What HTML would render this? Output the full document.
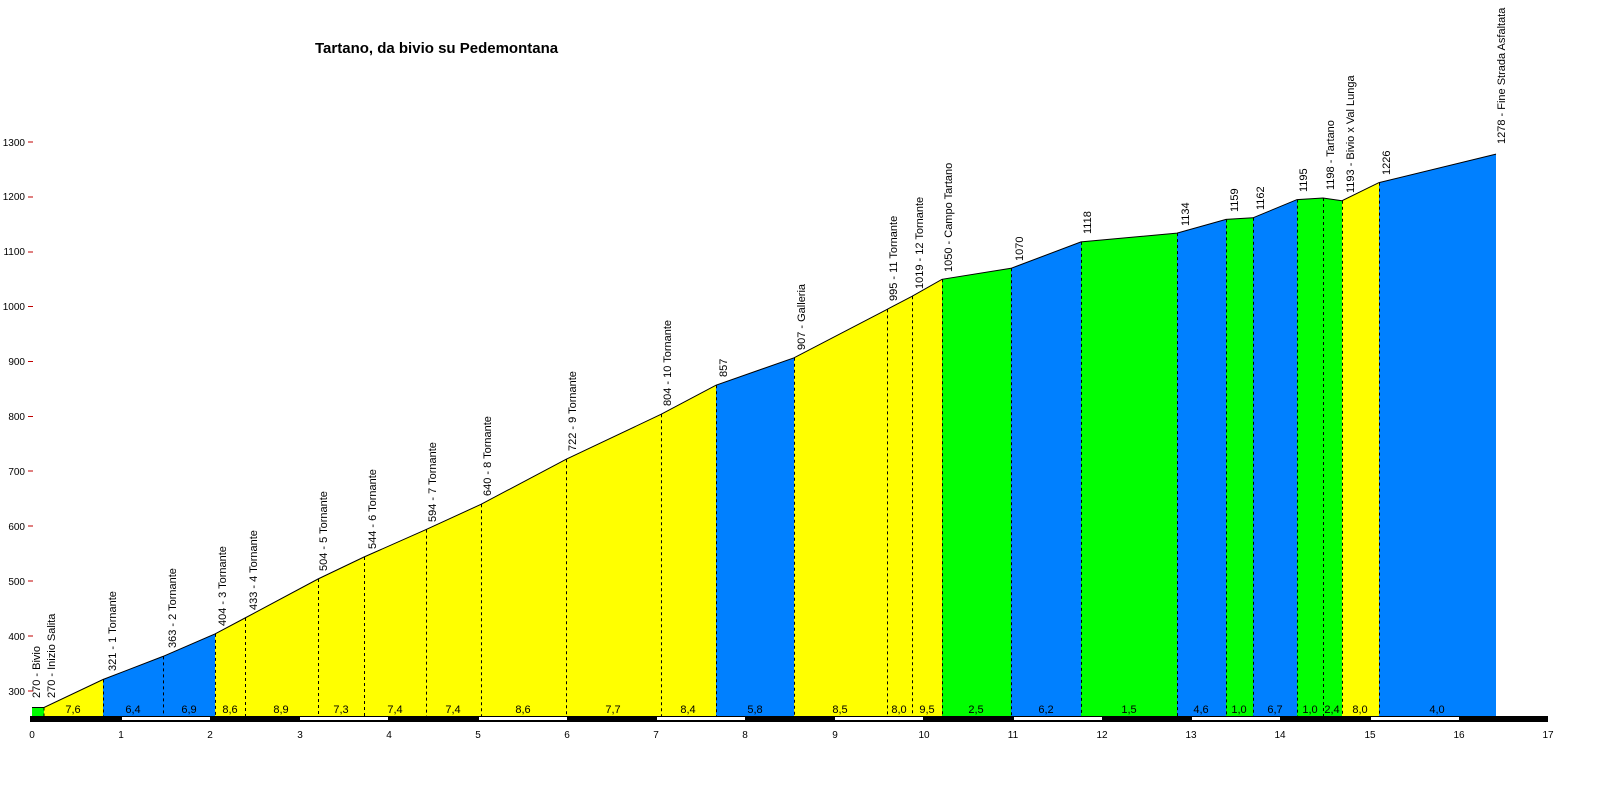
<!DOCTYPE html>
<html><head><meta charset="utf-8"><style>
html,body{margin:0;padding:0;background:#fff;overflow:hidden;width:1600px;height:800px}
svg{display:block;font-family:"Liberation Sans",Arial,sans-serif}
.l{font-size:11px}
.g{font-size:11px;text-anchor:middle}
.y{font-size:10px;text-anchor:end}
.x{font-size:10px;text-anchor:middle}
</style></head><body>
<svg width="1600" height="800" viewBox="0 0 1600 800">
<text x="315" y="53" font-size="15" font-weight="bold">Tartano, da bivio su Pedemontana</text>
<g stroke="none">
<polygon fill="#00ff00" points="32,707.5 44,707.5 44,716 32,716"/>
<polygon fill="#ffff00" points="44,707.5 103,679.5 103,716 44,716"/>
<polygon fill="#0080ff" points="103,679.5 163,656.4 215,633.9 215,716 103,716"/>
<polygon fill="#ffff00" points="215,633.9 245,618 318,579 364,557 426,529.6 481,504.3 566,459.3 661,414.3 716,385.2 716,716 215,716"/>
<polygon fill="#0080ff" points="716,385.2 794,357.8 794,716 716,716"/>
<polygon fill="#ffff00" points="794,357.8 887,309.4 912,296.3 942,279.3 942,716 794,716"/>
<polygon fill="#00ff00" points="942,279.3 1011,268.3 1011,716 942,716"/>
<polygon fill="#0080ff" points="1011,268.3 1081,241.9 1081,716 1011,716"/>
<polygon fill="#00ff00" points="1081,241.9 1177,233.1 1177,716 1081,716"/>
<polygon fill="#0080ff" points="1177,233.1 1226,219.4 1226,716 1177,716"/>
<polygon fill="#00ff00" points="1226,219.4 1253,217.8 1253,716 1226,716"/>
<polygon fill="#0080ff" points="1253,217.8 1297,199.6 1297,716 1253,716"/>
<polygon fill="#00ff00" points="1297,199.6 1323,198 1342,200.7 1342,716 1297,716"/>
<polygon fill="#ffff00" points="1342,200.7 1379,182.6 1379,716 1342,716"/>
<polygon fill="#0080ff" points="1379,182.6 1496,154.1 1496,716 1379,716"/>
</g>
<polyline fill="none" stroke="#000" stroke-width="1" points="32,707.5 44,707.5 103,679.5 163,656.4 215,633.9 245,618 318,579 364,557 426,529.6 481,504.3 566,459.3 661,414.3 716,385.2 794,357.8 887,309.4 912,296.3 942,279.3 1011,268.3 1081,241.9 1177,233.1 1226,219.4 1253,217.8 1297,199.6 1323,198 1342,200.7 1379,182.6 1496,154.1"/>
<g stroke="#000" stroke-dasharray="3,3" stroke-width="1">
<line x1="44" y1="707.5" x2="44" y2="716"/>
<line x1="103.5" y1="679.5" x2="103.5" y2="716"/>
<line x1="163.5" y1="656.4" x2="163.5" y2="716"/>
<line x1="215.5" y1="633.9" x2="215.5" y2="716"/>
<line x1="245.5" y1="618" x2="245.5" y2="716"/>
<line x1="318.5" y1="579" x2="318.5" y2="716"/>
<line x1="364.5" y1="557" x2="364.5" y2="716"/>
<line x1="426.5" y1="529.6" x2="426.5" y2="716"/>
<line x1="481.5" y1="504.3" x2="481.5" y2="716"/>
<line x1="566.5" y1="459.3" x2="566.5" y2="716"/>
<line x1="661.5" y1="414.3" x2="661.5" y2="716"/>
<line x1="716.5" y1="385.2" x2="716.5" y2="716"/>
<line x1="794.5" y1="357.8" x2="794.5" y2="716"/>
<line x1="887.5" y1="309.4" x2="887.5" y2="716"/>
<line x1="912.5" y1="296.3" x2="912.5" y2="716"/>
<line x1="942.5" y1="279.3" x2="942.5" y2="716"/>
<line x1="1011.5" y1="268.3" x2="1011.5" y2="716"/>
<line x1="1081.5" y1="241.9" x2="1081.5" y2="716"/>
<line x1="1177.5" y1="233.1" x2="1177.5" y2="716"/>
<line x1="1226.5" y1="219.4" x2="1226.5" y2="716"/>
<line x1="1253.5" y1="217.8" x2="1253.5" y2="716"/>
<line x1="1297.5" y1="199.6" x2="1297.5" y2="716"/>
<line x1="1323.5" y1="198" x2="1323.5" y2="716"/>
<line x1="1342.5" y1="200.7" x2="1342.5" y2="716"/>
<line x1="1379.5" y1="182.6" x2="1379.5" y2="716"/>
</g>
<g class="l">
<text x="40" y="698" transform="rotate(-90 40 698)">270 - Bivio</text>
<text x="55" y="698" transform="rotate(-90 55 698)">270 - Inizio Salita</text>
<text x="116" y="671" transform="rotate(-90 116 671)">321 - 1 Tornante</text>
<text x="176" y="648" transform="rotate(-90 176 648)">363 - 2 Tornante</text>
<text x="226" y="626" transform="rotate(-90 226 626)">404 - 3 Tornante</text>
<text x="257" y="610" transform="rotate(-90 257 610)">433 - 4 Tornante</text>
<text x="327" y="571" transform="rotate(-90 327 571)">504 - 5 Tornante</text>
<text x="376" y="549" transform="rotate(-90 376 549)">544 - 6 Tornante</text>
<text x="436" y="522" transform="rotate(-90 436 522)">594 - 7 Tornante</text>
<text x="491" y="496" transform="rotate(-90 491 496)">640 - 8 Tornante</text>
<text x="576" y="451" transform="rotate(-90 576 451)">722 - 9 Tornante</text>
<text x="671" y="406" transform="rotate(-90 671 406)">804 - 10 Tornante</text>
<text x="727" y="377" transform="rotate(-90 727 377)">857</text>
<text x="805" y="350" transform="rotate(-90 805 350)">907 - Galleria</text>
<text x="897" y="301" transform="rotate(-90 897 301)">995 - 11 Tornante</text>
<text x="923" y="289" transform="rotate(-90 923 289)">1019 - 12 Tornante</text>
<text x="952" y="272" transform="rotate(-90 952 272)">1050 - Campo Tartano</text>
<text x="1023" y="261" transform="rotate(-90 1023 261)">1070</text>
<text x="1091" y="234" transform="rotate(-90 1091 234)">1118</text>
<text x="1189" y="226" transform="rotate(-90 1189 226)">1134</text>
<text x="1238" y="212" transform="rotate(-90 1238 212)">1159</text>
<text x="1264" y="210" transform="rotate(-90 1264 210)">1162</text>
<text x="1307" y="192" transform="rotate(-90 1307 192)">1195</text>
<text x="1334" y="190" transform="rotate(-90 1334 190)">1198 - Tartano</text>
<text x="1354" y="193" transform="rotate(-90 1354 193)">1193 - Bivio x Val Lunga</text>
<text x="1390" y="175" transform="rotate(-90 1390 175)">1226</text>
<text x="1505" y="144" transform="rotate(-90 1505 144)">1278 - Fine Strada Asfaltata</text>
</g>
<g class="g">
<text x="73" y="713">7,6</text><text x="133" y="713">6,4</text><text x="189" y="713">6,9</text>
<text x="230" y="713">8,6</text><text x="281" y="713">8,9</text><text x="341" y="713">7,3</text>
<text x="395" y="713">7,4</text><text x="453" y="713">7,4</text><text x="523" y="713">8,6</text>
<text x="613" y="713">7,7</text><text x="688" y="713">8,4</text><text x="755" y="713">5,8</text>
<text x="840" y="713">8,5</text><text x="899" y="713">8,0</text><text x="927" y="713">9,5</text>
<text x="976" y="713">2,5</text><text x="1046" y="713">6,2</text><text x="1129" y="713">1,5</text>
<text x="1201" y="713">4,6</text><text x="1239" y="713">1,0</text><text x="1275" y="713">6,7</text>
<text x="1310" y="713">1,0</text><text x="1332" y="713">2,4</text><text x="1360" y="713">8,0</text>
<text x="1437" y="713">4,0</text>
</g>
<rect x="30" y="716" width="1518" height="6" fill="#000"/>
<g fill="#fff">
<rect x="122" y="717" width="88" height="3"/><rect x="300" y="717" width="88" height="3"/>
<rect x="479" y="717" width="88" height="3"/><rect x="657" y="717" width="88" height="3"/>
<rect x="835" y="717" width="88" height="3"/><rect x="1014" y="717" width="88" height="3"/>
<rect x="1192" y="717" width="88" height="3"/><rect x="1371" y="717" width="88" height="3"/>
</g>
<g stroke="#c00000">
<line x1="28" y1="691" x2="33" y2="691"/><line x1="28" y1="636" x2="33" y2="636"/>
<line x1="28" y1="581" x2="33" y2="581"/><line x1="28" y1="526" x2="33" y2="526"/>
<line x1="28" y1="471" x2="33" y2="471"/><line x1="28" y1="416.5" x2="33" y2="416.5"/>
<line x1="28" y1="361.5" x2="33" y2="361.5"/><line x1="28" y1="306.5" x2="33" y2="306.5"/>
<line x1="28" y1="252" x2="33" y2="252"/><line x1="28" y1="197" x2="33" y2="197"/>
<line x1="28" y1="142" x2="33" y2="142"/>
</g>
<g class="y">
<text x="25" y="695">300</text><text x="25" y="640">400</text><text x="25" y="585">500</text>
<text x="25" y="530">600</text><text x="25" y="475">700</text><text x="25" y="420">800</text>
<text x="25" y="365">900</text><text x="25" y="310">1000</text><text x="25" y="255">1100</text>
<text x="25" y="200">1200</text><text x="25" y="146">1300</text>
</g>
<g class="x">
<text x="32" y="738">0</text><text x="121" y="738">1</text><text x="210" y="738">2</text>
<text x="300" y="738">3</text><text x="389" y="738">4</text><text x="478" y="738">5</text>
<text x="567" y="738">6</text><text x="656" y="738">7</text><text x="745" y="738">8</text>
<text x="835" y="738">9</text><text x="924" y="738">10</text><text x="1013" y="738">11</text>
<text x="1102" y="738">12</text><text x="1191" y="738">13</text><text x="1280" y="738">14</text>
<text x="1370" y="738">15</text><text x="1459" y="738">16</text><text x="1548" y="738">17</text>
</g>
</svg>
</body></html>
